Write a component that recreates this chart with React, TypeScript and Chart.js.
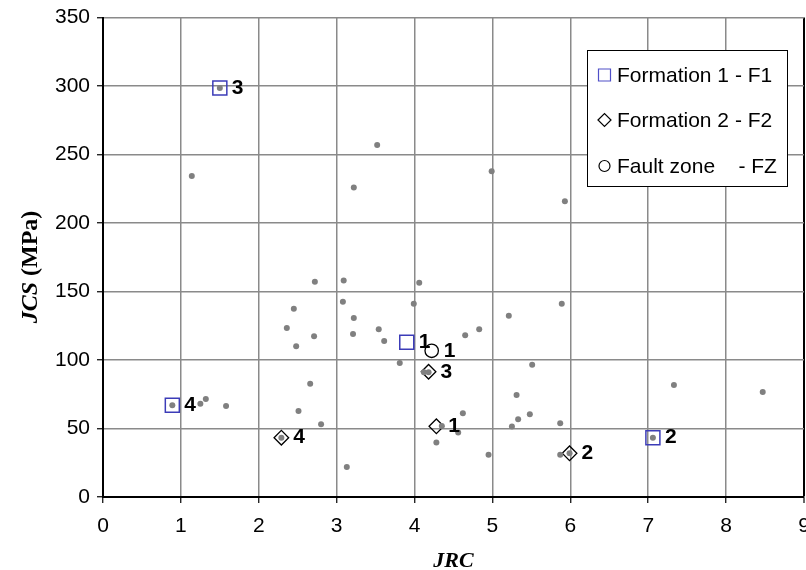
import React, { useEffect, useRef } from 'react';
import { Chart, registerables } from 'chart.js';

Chart.register(...registerables);

// All samples (grey dots)
const allX = [1.50, 1.14, 3.52, 3.22, 4.99, 5.93, 2.72, 3.09, 4.06, 2.45, 3.08, 3.99, 5.89, 3.22, 5.21, 2.36, 2.71, 3.21, 3.54, 4.65, 4.83, 3.61, 2.48, 3.81, 5.51, 4.12, 4.18, 2.66, 5.31, 7.33, 8.47, 0.89, 1.25, 1.32, 1.58, 2.51, 4.62, 5.33, 5.48, 2.80, 5.25, 5.87, 4.35, 4.56, 2.29, 4.28, 7.06, 3.13, 4.95, 5.87, 5.99];
const allY = [298.6, 234.3, 257.0, 226.0, 237.7, 215.8, 157.1, 158.1, 156.4, 137.4, 142.5, 141.0, 141.0, 130.6, 132.3, 123.3, 117.4, 118.9, 122.5, 118.1, 122.5, 113.8, 110.1, 97.9, 96.5, 91.1, 91.1, 82.6, 74.5, 81.8, 76.7, 67.0, 68.0, 71.6, 66.5, 62.8, 61.2, 56.8, 60.4, 53.1, 51.4, 53.8, 51.9, 47.0, 43.3, 39.7, 43.3, 21.9, 30.9, 30.9, 31.9];

// Formation 1 - F1
const f1X = [3.90, 7.06, 1.50, 0.89];
const f1Y = [113.0, 43.3, 298.6, 67.0];
const f1Labels = ['1', '2', '3', '4'];

// Formation 2 - F2
const f2X = [4.28, 5.99, 4.18, 2.29];
const f2Y = [51.6, 31.9, 91.4, 43.3];
const f2Labels = ['1', '2', '3', '4'];

// Fault zone - FZ
const fzX = [4.22];
const fzY = [106.7];
const fzLabels = ['1'];

const seriesNames = ['Formation 1 - F1', 'Formation 2 - F2', 'Fault zone    - FZ'];
const xTitle = 'JRC';
const yTitleItalic = 'JCS';
const yTitleRest = ' (MPa)';

const X_MIN = 0, X_MAX = 9, X_STEP = 1;
const Y_MIN = 0, Y_MAX = 350, Y_STEP = 50;

const SANS = "'Liberation Sans', Arial, sans-serif";
const SERIF = "'Liberation Serif', 'Times New Roman', serif";
const BLUE = '#3c3cb8';

const toPts = (xs: number[], ys: number[]) => xs.map((x, i) => ({ x, y: ys[i] }));

function drawMarker(ctx: CanvasRenderingContext2D, style: string, x: number, y: number, r: number, color: string, lw: number) {
  ctx.save();
  ctx.strokeStyle = color;
  ctx.lineWidth = lw;
  ctx.beginPath();
  if (style === 'rect') {
    ctx.rect(x - r, y - r, 2 * r, 2 * r);
  } else if (style === 'rectRot') {
    ctx.moveTo(x - r, y);
    ctx.lineTo(x, y - r);
    ctx.lineTo(x + r, y);
    ctx.lineTo(x, y + r);
    ctx.closePath();
  } else {
    ctx.arc(x, y, r, 0, Math.PI * 2);
  }
  ctx.stroke();
  ctx.restore();
}

export default function App() {
  const ref = useRef<HTMLCanvasElement>(null);

  useEffect(() => {
    if (!ref.current) return;

    const labelPlugin = {
      id: 'pointLabels',
      afterDatasetsDraw(chart: any) {
        const ctx = chart.ctx;
        ctx.save();
        ctx.font = `bold 21px ${SANS}`;
        ctx.fillStyle = '#000';
        ctx.textAlign = 'left';
        ctx.textBaseline = 'middle';
        chart.data.datasets.forEach((ds: any, i: number) => {
          const labels = ds.pointLabels;
          if (!labels) return;
          const meta = chart.getDatasetMeta(i);
          meta.data.forEach((el: any, j: number) => {
            ctx.fillText(labels[j], el.x + 12, el.y);
          });
        });
        ctx.restore();
      },
    };

    const decoPlugin = {
      id: 'deco',
      afterDraw(chart: any) {
        const ctx = chart.ctx;
        // legend box
        ctx.save();
        ctx.fillStyle = '#fff';
        ctx.fillRect(587, 50, 201, 137);
        ctx.strokeStyle = '#000';
        ctx.lineWidth = 1;
        ctx.strokeRect(587.5, 50.5, 200, 136);
        const rows = [75, 120, 166];
        const styles = [
          { s: 'rect', r: 6, c: '#5050c8', lw: 1.2 },
          { s: 'rectRot', r: 6.5, c: '#000', lw: 1.2 },
          { s: 'circle', r: 5.5, c: '#000', lw: 1.2 },
        ];
        ctx.font = `21px ${SANS}`;
        ctx.fillStyle = '#000';
        ctx.textAlign = 'left';
        ctx.textBaseline = 'middle';
        seriesNames.forEach((name, i) => {
          const st = styles[i];
          drawMarker(ctx, st.s, 604.5, rows[i], st.r, st.c, st.lw);
          ctx.fillText(name, 617, rows[i] + 1);
        });
        ctx.restore();

        // x title
        ctx.save();
        ctx.fillStyle = '#000';
        ctx.font = `italic bold 22px ${SERIF}`;
        ctx.textAlign = 'center';
        ctx.textBaseline = 'alphabetic';
        ctx.fillText(xTitle, (chart.chartArea.left + chart.chartArea.right) / 2, 567);
        ctx.restore();

        // y title
        ctx.save();
        ctx.fillStyle = '#000';
        ctx.translate(37, 267);
        ctx.rotate(-Math.PI / 2);
        ctx.textBaseline = 'alphabetic';
        ctx.textAlign = 'left';
        const f1 = `italic bold 24px ${SERIF}`;
        const f2 = `bold 24px ${SERIF}`;
        ctx.font = f1;
        const w1 = ctx.measureText(yTitleItalic).width;
        ctx.font = f2;
        const w2 = ctx.measureText(yTitleRest).width;
        const start = -(w1 + w2) / 2;
        ctx.font = f1;
        ctx.fillText(yTitleItalic, start, 0);
        ctx.font = f2;
        ctx.fillText(yTitleRest, start + w1, 0);
        ctx.restore();
      },
    };

    const chart = new Chart(ref.current, {
      type: 'scatter',
      data: {
        datasets: [
          {
            label: 'All',
            data: toPts(allX, allY),
            pointStyle: 'circle',
            pointRadius: 3,
            pointBorderWidth: 0,
            backgroundColor: '#808080',
            borderColor: '#808080',
          },
          {
            label: seriesNames[0],
            data: toPts(f1X, f1Y),
            pointStyle: 'rect',
            pointRadius: 9.9,
            pointBorderWidth: 1.5,
            backgroundColor: 'rgba(0,0,0,0)',
            borderColor: BLUE,
            pointLabels: f1Labels,
          } as any,
          {
            label: seriesNames[1],
            data: toPts(f2X, f2Y),
            pointStyle: 'rectRot',
            pointRadius: 7.3,
            pointBorderWidth: 1.3,
            backgroundColor: 'rgba(0,0,0,0)',
            borderColor: '#000',
            pointLabels: f2Labels,
          } as any,
          {
            label: seriesNames[2],
            data: toPts(fzX, fzY),
            pointStyle: 'circle',
            pointRadius: 6.7,
            pointBorderWidth: 1.3,
            backgroundColor: 'rgba(0,0,0,0)',
            borderColor: '#000',
            pointLabels: fzLabels,
          } as any,
        ],
      },
      options: {
        animation: false,
        responsive: false,
        devicePixelRatio: 1,
        events: [],
        layout: { autoPadding: false, padding: { top: 17.5, right: 2, bottom: 0, left: 0 } },
        plugins: {
          legend: { display: false },
          tooltip: { enabled: false },
          title: { display: false },
        },
        scales: {
          x: {
            type: 'linear',
            min: X_MIN,
            max: X_MAX,
            afterFit: (s: any) => {
              s.height = 73;
              s.paddingLeft = 0;
              s.paddingRight = 0;
            },
            ticks: {
              stepSize: X_STEP,
              color: '#000',
              padding: 11,
              maxRotation: 0,
              font: { family: SANS, size: 21 },
            },
            grid: {
              color: (c: any) => (c.tick && c.tick.value === X_MAX ? '#000' : '#8a8a8a'),
              lineWidth: (c: any) => (c.tick && c.tick.value === X_MAX ? 2 : 1.5),
              tickColor: '#000',
              tickLength: 6,
              tickWidth: 1.2,
            },
            border: { color: '#000', width: 2 },
          },
          y: {
            type: 'linear',
            min: Y_MIN,
            max: Y_MAX,
            afterFit: (s: any) => {
              s.width = 103;
              s.paddingTop = 0;
              s.paddingBottom = 0;
            },
            ticks: {
              stepSize: Y_STEP,
              color: '#000',
              padding: 7,
              font: { family: SANS, size: 21 },
            },
            grid: {
              color: '#8a8a8a',
              lineWidth: 1.5,
              tickColor: '#000',
              tickLength: 6,
              tickWidth: 1.2,
            },
            border: { color: '#000', width: 2 },
          },
        },
      },
      plugins: [labelPlugin, decoPlugin],
    } as any);

    return () => chart.destroy();
  }, []);

  return (
    <div style={{ position: 'absolute', left: 0, top: 0, width: 806, height: 570, background: '#fff' }}>
      <canvas ref={ref} width={806} height={570} style={{ display: 'block', width: 806, height: 570 }} />
    </div>
  );
}
